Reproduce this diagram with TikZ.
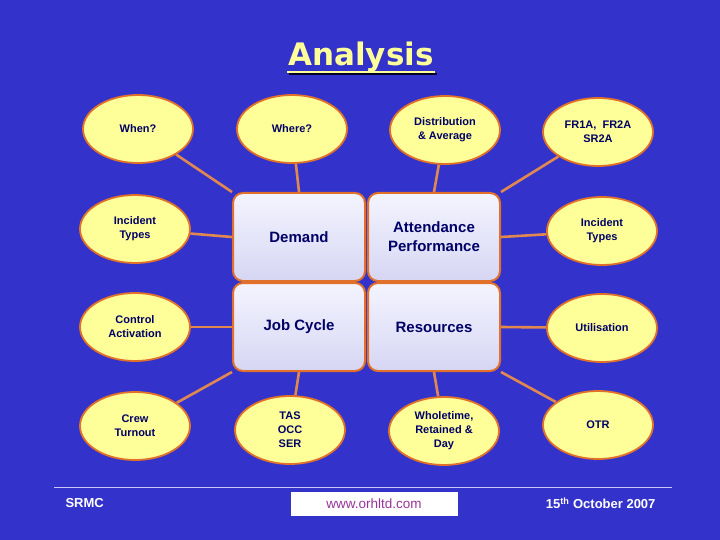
\documentclass[tikz,border=0pt]{standalone}
\usepackage{fontspec}
\setmainfont{Liberation Sans}
\newfontfamily\titlefont{DejaVu Sans}
\usetikzlibrary{shapes.geometric}
\definecolor{bgblue}{HTML}{3333CC}
\definecolor{ellfill}{HTML}{FFFF99}
\definecolor{orng}{HTML}{E0702A}
\definecolor{lnorng}{HTML}{E08850}
\definecolor{navy}{HTML}{000066}
\definecolor{boxtop}{HTML}{F4F4FF}
\definecolor{boxbot}{HTML}{D6D6F4}
\definecolor{urlcol}{HTML}{993399}
\definecolor{titley}{HTML}{FFFF99}
\definecolor{rulecol}{HTML}{C8C8F0}
\pgfdeclarelayer{bg}\pgfdeclarelayer{lines}\pgfsetlayers{bg,lines,main}
\begin{document}
\begin{tikzpicture}[x=1pt,y=-1pt,
  oval/.style={ellipse, draw=orng, line width=1.8pt, fill=ellfill, minimum width=110pt, minimum height=68pt, inner sep=0pt, align=center, font=\bfseries\fontsize{11}{14}\selectfont, text=navy},
  panel/.style={rectangle, rounded corners=10pt, draw=orng, line width=2pt, top color=boxtop, bottom color=boxbot, minimum width=132pt, minimum height=88pt, align=center, font=\bfseries\fontsize{15}{19}\selectfont, text=navy},
  link/.style={draw=lnorng, line width=2.6pt},
  foot/.style={font=\bfseries\fontsize{13}{15}\selectfont, text=white}]
\begin{pgfonlayer}{bg}
  \fill[bgblue] (0,0) rectangle (720,540);
\end{pgfonlayer}
\useasboundingbox (0,0) rectangle (720,540);

% title
\coordinate (ulL) at (287,72);
\coordinate (ulR) at (435,72);
\draw[black!85!blue, line width=2.5pt] ([shift={(2,2)}]ulL) -- ([shift={(2,2)}]ulR);
\draw[titley, line width=2.5pt] (ulL) -- (ulR);
\node[anchor=base, font=\titlefont\bfseries\fontsize{31}{36}\selectfont, text=titley, inner sep=0pt] (title) at (361,66) {Analysis};

% panels
\node[panel] (demand) at (299,237) {Demand};
\node[panel] (attend) at (434,237) {Attendance\\Performance};
\node[panel] (job) at (299,327) {Job Cycle};
\node[panel] (res) at (434,327) {Resources};

% ovals
\node[oval] (when) at (138,129) {When?};
\node[oval] (where) at (292,129) {Where?};
\node[oval] (dist) at (445,130) {Distribution\\\& Average};
\node[oval] (fr) at (598,132) {FR1A,~ FR2A\\SR2A};
\node[oval] (incl) at (135,229) {Incident\\Types};
\node[oval] (incr) at (602,231) {Incident\\Types};
\node[oval] (ctrl) at (135,327) {Control\\Activation};
\node[oval] (util) at (602,328) {Utilisation};
\node[oval] (crew) at (135,426) {Crew\\Turnout};
\node[oval] (tas) at (290,430) {TAS\\OCC\\SER};
\node[oval] (whole) at (444,431) {Wholetime,\\Retained \&\\Day};
\node[oval] (otr) at (598,425) {OTR};

% connectors
\begin{pgfonlayer}{lines}
  \draw[link] (when) -- (demand.north west);
  \draw[link] (where) -- (demand.north);
  \draw[link] (dist) -- (attend.north);
  \draw[link] (fr) -- (attend.north east);
  \draw[link] (incl) -- (demand.west);
  \draw[link] (incr) -- (attend.east);
  \draw[link] (ctrl) -- (job.west);
  \draw[link] (util) -- (res.east);
  \draw[link] (crew) -- (job.south west);
  \draw[link] (tas) -- (job.south);
  \draw[link] (whole) -- (res.south);
  \draw[link] (otr) -- (res.south east);
\end{pgfonlayer}

% footer
\coordinate (ruleL) at (54,487);
\coordinate (ruleR) at (672,487);
\draw[rulecol, line width=1pt] (ruleL) -- (ruleR);
\node[foot, anchor=west] (srmc) at (62,503) {SRMC};
\node[fill=white, minimum width=167pt, minimum height=24pt, inner sep=0pt, text=urlcol, font=\fontsize{13.5}{15}\selectfont] (url) at (374,504) {www.orhltd.com};
\node[foot, anchor=east] (date) at (659,503) {15\textsuperscript{th} October 2007};
\end{tikzpicture}
\end{document}
